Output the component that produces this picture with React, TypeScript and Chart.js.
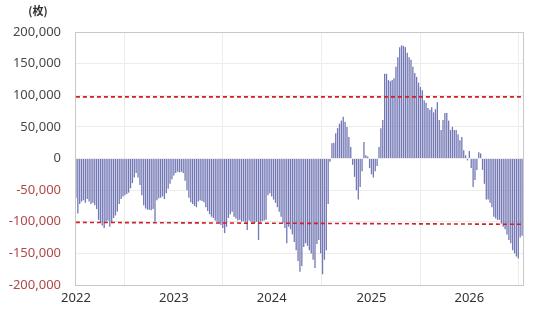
import React, { useEffect, useRef } from "react";
import { Chart, registerables } from "chart.js";

Chart.register(...registerables);

// Weekly observations starting on this Monday
const startDate = "2022-01-03";

// Weekly net position (枚)
const netPosition = [
  -62000, -87000, -72000, -68000, -66000, -70000, -64000, -68000, -72000, -70000,
  -74000, -80000, -97000, -102000, -106000, -110000, -100000, -98000, -108000, -101000,
  -94000, -90000, -84000, -72000, -64000, -60000, -58000, -56000, -54000, -47000,
  -39000, -30000, -23000, -30000, -42000, -58000, -74000, -79000, -81000, -81000,
  -82000, -80000, -100000, -66000, -63000, -62000, -60000, -64000, -55000, -48000,
  -40000, -33000, -27000, -23000, -21000, -22000, -21000, -23000, -35000, -50000,
  -62000, -69000, -72000, -75000, -77000, -68000, -66000, -67000, -69000, -77000,
  -83000, -88000, -92000, -94000, -98000, -100000, -102000, -105000, -110000, -118000,
  -108000, -94000, -88000, -84000, -92000, -95000, -98000, -97000, -100000, -99000,
  -100000, -113000, -98000, -100000, -101000, -102000, -100000, -129000, -100000, -99000,
  -98000, -97000, -58000, -55000, -60000, -65000, -70000, -77000, -84000, -92000,
  -102000, -110000, -134000, -108000, -112000, -120000, -132000, -145000, -162000, -179000,
  -170000, -140000, -134000, -138000, -145000, -150000, -160000, -173000, -135000, -129000,
  -150000, -183000, -160000, -145000, -72000, -5000, 24000, 25000, 40000, 48000,
  55000, 60000, 66000, 58000, 50000, 34000, 18000, -10000, -29000, -50000,
  -65000, -45000, -20000, 26000, 5000, 3000, -15000, -25000, -30000, -20000,
  -12000, 18000, 48000, 61000, 134000, 134000, 124000, 122000, 124000, 127000,
  145000, 160000, 176000, 179000, 178000, 176000, 167000, 160000, 156000, 145000,
  135000, 129000, 120000, 113000, 108000, 92000, 88000, 80000, 77000, 81000,
  73000, 78000, 89000, 61000, 45000, 61000, 72000, 72000, 60000, 45000,
  50000, 45000, 45000, 38000, 29000, 34000, 13000, 5000, -3000, 12000,
  -15000, -45000, -34000, -18000, 10000, 8000, -18000, -40000, -65000, -65000,
  -70000, -77000, -92000, -95000, -97000, -97000, -103000, -108000, -112000, -120000,
  -129000, -134000, -145000, -150000, -155000, -158000, -125000, -122000,
];

// Threshold lines: [start value, end value]
const upperBand = [97500, 97500];
const lowerBand = [-101000, -104000];

const yTicks = [-200000, -150000, -100000, -50000, 0, 50000, 100000, 150000, 200000];
const unitLabel = "(枚)";

function buildLabels(): string[] {
  const base = new Date(startDate + "T00:00:00Z");
  return netPosition.map((_, i) => {
    const d = new Date(base.getTime() + i * 7 * 86400000);
    return d.toISOString().slice(0, 10);
  });
}

function bandSeries(band: number[]): (number | null)[] {
  return netPosition.map((_, i) =>
    i === 0 ? band[0] : i === netPosition.length - 1 ? band[1] : null
  );
}

export default function App() {
  const canvasRef = useRef<HTMLCanvasElement | null>(null);

  useEffect(() => {
    const canvas = canvasRef.current;
    if (!canvas) return;
    const labels = buildLabels();
    const yearStart = new Set<number>();
    labels.forEach((l, i) => {
      if (i === 0 || l.slice(0, 4) !== labels[i - 1].slice(0, 4)) yearStart.add(i);
    });

    const frame = {
      id: "frame",
      afterDraw(chart: any) {
        const { ctx, chartArea } = chart;
        ctx.save();
        ctx.strokeStyle = "#c8c8c8";
        ctx.lineWidth = 1;
        ctx.strokeRect(
          Math.round(chartArea.left) + 0.5,
          Math.round(chartArea.top) + 0.5,
          Math.round(chartArea.right - chartArea.left),
          Math.round(chartArea.bottom - chartArea.top)
        );
        ctx.fillStyle = "#333";
        ctx.font = 'bold 11px "Noto Sans CJK JP"';
        ctx.textAlign = "center";
        ctx.textBaseline = "middle";
        ctx.fillText(unitLabel, 38, 11);
        ctx.restore();
      },
    };

    const chart = new Chart(canvas, {
      type: "bar",
      data: {
        labels,
        datasets: [
          {
            type: "line",
            data: bandSeries(upperBand),
            borderColor: "#d0202a",
            borderWidth: 1.6,
            borderDash: [4, 3],
            pointRadius: 0,
            spanGaps: true,
            order: 0,
          } as any,
          {
            type: "line",
            data: bandSeries(lowerBand),
            borderColor: "#d0202a",
            borderWidth: 1.6,
            borderDash: [4, 3],
            pointRadius: 0,
            spanGaps: true,
            order: 0,
          } as any,
          {
            type: "bar",
            data: netPosition,
            backgroundColor: "#7479b6",
            barPercentage: 0.7,
            categoryPercentage: 1,
            order: 2,
          },
        ],
      },
      options: {
        animation: false,
        responsive: false,
        devicePixelRatio: 1,
        layout: { padding: { left: 0, top: 32, right: 17, bottom: 0 } },
        plugins: { legend: { display: false }, tooltip: { enabled: false } },
        scales: {
          x: {
            afterFit(scale: any) {
              scale.height = 26;
            },
            grid: {
              color: "#ececec",
              drawTicks: false,
            },
            border: { display: true, color: "#c8c8c8" },
            ticks: {
              autoSkip: false,
              maxRotation: 0,
              minRotation: 0,
              padding: 5,
              color: "#333",
              font: { family: '"Noto Sans"', size: 13 },
              callback(this: any, val: any, idx: number) {
                if (!yearStart.has(idx)) return null;
                return String(this.getLabelForValue(val)).slice(0, 4);
              },
            },
          },
          y: {
            min: -200000,
            max: 200000,
            afterFit(scale: any) {
              scale.width = 75;
            },
            afterBuildTicks(scale: any) {
              scale.ticks = yTicks.map((v) => ({ value: v }));
            },
            grid: { color: "#ececec", drawTicks: false },
            border: { display: true, color: "#c8c8c8" },
            ticks: {
              padding: 14,
              font: { family: '"Noto Sans"', size: 13 },
              color: (ctx: any) => (ctx.tick && ctx.tick.value < 0 ? "#b04848" : "#484848"),
              callback: (v: any) => Number(v).toLocaleString("en-US"),
            },
          },
        },
      },
      plugins: [frame],
    });

    return () => chart.destroy();
  }, []);

  return (
    <div style={{ position: "fixed", left: 0, top: 0, width: 540, height: 311, background: "#fff" }}>
      <canvas ref={canvasRef} width={540} height={311} style={{ width: 540, height: 311 }} />
    </div>
  );
}
